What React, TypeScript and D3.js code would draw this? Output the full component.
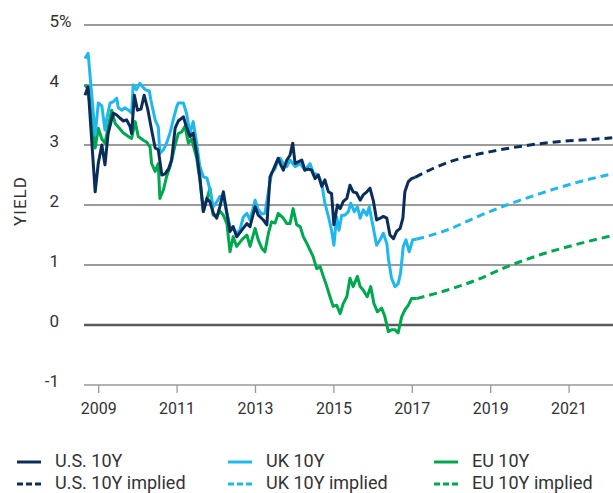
import React from "react";
import * as d3 from "d3";

// ---- data (decimal year, yield %) ----
const US_10Y: [number, number][] = [
  [2008.65, 3.83], [2008.73, 3.97], [2008.91, 2.22], [2008.99, 2.7], [2009.08, 3.0], [2009.16, 2.67],
  [2009.24, 3.19], [2009.37, 3.53], [2009.46, 3.5], [2009.54, 3.45], [2009.63, 3.4], [2009.71, 3.42],
  [2009.8, 3.31], [2009.84, 3.19], [2009.91, 3.83], [2009.99, 3.58], [2010.08, 3.6], [2010.16, 3.83],
  [2010.25, 3.6], [2010.35, 3.25], [2010.44, 2.95], [2010.52, 2.92], [2010.61, 2.5], [2010.69, 2.52],
  [2010.78, 2.6], [2010.86, 2.75], [2010.95, 3.28], [2011.03, 3.4], [2011.16, 3.47], [2011.24, 3.3],
  [2011.33, 3.14], [2011.41, 3.2], [2011.5, 2.86], [2011.58, 2.47], [2011.67, 1.89], [2011.76, 2.11],
  [2011.84, 2.05], [2011.92, 1.87], [2012.01, 1.78], [2012.09, 1.97], [2012.18, 2.22], [2012.27, 1.86],
  [2012.35, 1.56], [2012.43, 1.64], [2012.52, 1.47], [2012.65, 1.58], [2012.78, 1.69], [2012.86, 1.64],
  [2012.99, 1.97], [2013.07, 1.83], [2013.2, 1.75], [2013.29, 1.67], [2013.37, 2.47], [2013.45, 2.58],
  [2013.58, 2.78], [2013.63, 2.69], [2013.71, 2.58], [2013.8, 2.75], [2013.88, 2.83], [2013.95, 3.03],
  [2014.01, 2.69], [2014.09, 2.72], [2014.18, 2.75], [2014.26, 2.58], [2014.35, 2.6], [2014.43, 2.58],
  [2014.52, 2.44], [2014.6, 2.5], [2014.69, 2.31], [2014.77, 2.42], [2014.86, 2.22], [2014.94, 2.19],
  [2015.0, 1.67], [2015.09, 2.0], [2015.16, 1.94], [2015.24, 2.06], [2015.33, 2.11], [2015.41, 2.33],
  [2015.49, 2.22], [2015.58, 2.2], [2015.67, 2.08], [2015.75, 2.17], [2015.84, 2.22], [2015.92, 2.28],
  [2016.01, 2.06], [2016.09, 1.75], [2016.18, 1.78], [2016.26, 1.81], [2016.35, 1.78], [2016.43, 1.5],
  [2016.52, 1.44], [2016.6, 1.56], [2016.69, 1.61], [2016.76, 1.78], [2016.81, 2.22], [2016.9, 2.39],
  [2016.98, 2.44], [2017.07, 2.46],
];

const UK_10Y: [number, number][] = [
  [2008.65, 4.44], [2008.73, 4.53], [2008.91, 3.17], [2008.99, 3.7], [2009.08, 3.65], [2009.16, 3.25],
  [2009.2, 3.42], [2009.29, 3.7], [2009.37, 3.72], [2009.46, 3.78], [2009.5, 3.62], [2009.59, 3.58],
  [2009.67, 3.62], [2009.76, 3.58], [2009.84, 3.53], [2009.88, 4.0], [2009.96, 3.92], [2010.05, 4.03],
  [2010.12, 3.97], [2010.2, 3.92], [2010.29, 3.9], [2010.33, 3.75], [2010.44, 3.42], [2010.52, 3.3],
  [2010.56, 2.86], [2010.65, 2.92], [2010.73, 3.03], [2010.82, 3.2], [2010.9, 3.42], [2010.99, 3.64],
  [2011.03, 3.7], [2011.16, 3.7], [2011.24, 3.53], [2011.33, 3.2], [2011.41, 3.39], [2011.5, 3.03],
  [2011.58, 2.64], [2011.67, 2.47], [2011.76, 2.45], [2011.84, 2.25], [2011.92, 1.97], [2012.01, 2.05],
  [2012.09, 2.14], [2012.18, 2.14], [2012.27, 1.87], [2012.35, 1.64], [2012.43, 1.6], [2012.52, 1.53],
  [2012.6, 1.58], [2012.69, 1.8], [2012.78, 1.86], [2012.86, 1.75], [2012.99, 2.08], [2013.07, 1.92],
  [2013.16, 1.85], [2013.24, 1.86], [2013.33, 2.22], [2013.41, 2.53], [2013.5, 2.61], [2013.58, 2.75],
  [2013.63, 2.78], [2013.71, 2.69], [2013.8, 2.64], [2013.88, 2.75], [2014.01, 2.64], [2014.14, 2.69],
  [2014.26, 2.58], [2014.39, 2.69], [2014.48, 2.53], [2014.6, 2.5], [2014.69, 2.36], [2014.77, 2.03],
  [2014.86, 1.81], [2014.94, 1.58], [2015.0, 1.33], [2015.07, 1.8], [2015.13, 1.58], [2015.2, 1.83],
  [2015.28, 1.83], [2015.37, 1.89], [2015.43, 2.03], [2015.52, 1.89], [2015.6, 1.97], [2015.67, 1.78],
  [2015.75, 1.92], [2015.84, 1.83], [2015.9, 1.97], [2015.99, 1.67], [2016.09, 1.33], [2016.18, 1.42],
  [2016.26, 1.53], [2016.35, 1.36], [2016.39, 1.11], [2016.47, 0.78], [2016.56, 0.64], [2016.64, 0.69],
  [2016.7, 0.86], [2016.77, 1.31], [2016.84, 1.42], [2016.92, 1.22], [2017.01, 1.42], [2017.1, 1.43],
];

const EU_10Y: [number, number][] = [
  [2008.65, 4.0], [2008.73, 3.93], [2008.91, 2.95], [2008.99, 3.28], [2009.08, 3.1], [2009.16, 3.03],
  [2009.24, 3.3], [2009.33, 3.58], [2009.42, 3.36], [2009.5, 3.3], [2009.63, 3.2], [2009.76, 3.14],
  [2009.84, 3.11], [2009.93, 3.39], [2010.01, 3.14], [2010.14, 3.08], [2010.22, 3.05], [2010.31, 2.97],
  [2010.35, 2.69], [2010.44, 2.56], [2010.52, 2.69], [2010.56, 2.11], [2010.65, 2.25], [2010.73, 2.47],
  [2010.82, 2.64], [2010.9, 2.86], [2010.95, 3.0], [2011.03, 3.19], [2011.12, 3.22], [2011.2, 3.31],
  [2011.29, 3.03], [2011.37, 3.1], [2011.5, 2.78], [2011.58, 2.42], [2011.67, 1.89], [2011.76, 2.1],
  [2011.84, 2.28], [2011.92, 1.83], [2012.01, 1.81], [2012.09, 1.9], [2012.18, 1.83], [2012.27, 1.69],
  [2012.35, 1.22], [2012.43, 1.47], [2012.52, 1.31], [2012.65, 1.42], [2012.78, 1.5], [2012.86, 1.31],
  [2012.99, 1.61], [2013.07, 1.42], [2013.16, 1.28], [2013.24, 1.22], [2013.33, 1.53], [2013.41, 1.72],
  [2013.5, 1.7], [2013.58, 1.86], [2013.71, 1.78], [2013.8, 1.69], [2013.88, 1.69], [2013.96, 1.94],
  [2014.05, 1.67], [2014.14, 1.64], [2014.22, 1.47], [2014.31, 1.36], [2014.39, 1.25], [2014.47, 1.14],
  [2014.56, 0.94], [2014.65, 0.97], [2014.73, 0.81], [2014.82, 0.64], [2014.9, 0.47], [2014.98, 0.31],
  [2015.07, 0.33], [2015.16, 0.19], [2015.24, 0.36], [2015.33, 0.47], [2015.41, 0.78], [2015.49, 0.64],
  [2015.6, 0.81], [2015.67, 0.64], [2015.75, 0.58], [2015.85, 0.47], [2015.94, 0.64], [2016.02, 0.36],
  [2016.11, 0.22], [2016.22, 0.28], [2016.3, 0.14], [2016.39, -0.11], [2016.47, -0.08], [2016.56, -0.08],
  [2016.64, -0.13], [2016.73, 0.14], [2016.81, 0.25], [2016.9, 0.33], [2016.98, 0.44], [2017.11, 0.44],
];

const US_IMPLIED: [number, number][] = [
  [2017.07, 2.46], [2017.5, 2.6], [2018.0, 2.73], [2018.5, 2.82], [2019.0, 2.89], [2019.5, 2.95],
  [2020.0, 3.0], [2020.5, 3.04], [2021.0, 3.07], [2021.5, 3.09], [2022.1, 3.12],
];
const UK_IMPLIED: [number, number][] = [
  [2017.1, 1.43], [2017.88, 1.58], [2018.64, 1.8], [2019.41, 2.0], [2020.26, 2.19], [2021.11, 2.36], [2022.1, 2.52],
];
const EU_IMPLIED: [number, number][] = [
  [2017.11, 0.44], [2017.88, 0.58], [2018.64, 0.75], [2019.41, 0.97], [2020.26, 1.17], [2021.11, 1.33], [2022.1, 1.49],
];

const Y_TICKS = [-1, 0, 1, 2, 3, 4, 5];
const X_TICKS = [2009, 2011, 2013, 2015, 2017, 2019, 2021];
const LEGEND_LABELS = ["U.S. 10Y", "UK 10Y", "EU 10Y", "U.S. 10Y implied", "UK 10Y implied", "EU 10Y implied"];

const NAVY = "#0b2d5b";
const SKY = "#1fb8ee";
const GREEN = "#00a84f";
const FONT = "Roboto, 'Liberation Sans', sans-serif";

export default function App() {
  const W = 613, H = 493;
  const x = d3.scaleLinear().domain([2009, 2021]).range([98.7, 569.1]);
  const y = d3.scaleLinear().domain([-1, 5]).range([385, 25]);
  const gridLeft = 84, gridRight = 613;

  const solid = d3.line<[number, number]>().x((d) => x(d[0])).y((d) => y(d[1])).curve(d3.curveLinear);
  const smooth = d3.line<[number, number]>().x((d) => x(d[0])).y((d) => y(d[1])).curve(d3.curveMonotoneX);

  const series = [
    { data: EU_10Y, color: GREEN, implied: EU_IMPLIED },
    { data: UK_10Y, color: SKY, implied: UK_IMPLIED },
    { data: US_10Y, color: NAVY, implied: US_IMPLIED },
  ];

  const legend = [
    { label: LEGEND_LABELS[0], color: NAVY, dashed: false, lx: 17, row: 0 },
    { label: LEGEND_LABELS[1], color: SKY, dashed: false, lx: 228, row: 0 },
    { label: LEGEND_LABELS[2], color: GREEN, dashed: false, lx: 434, row: 0 },
    { label: LEGEND_LABELS[3], color: NAVY, dashed: true, lx: 17, row: 1 },
    { label: LEGEND_LABELS[4], color: SKY, dashed: true, lx: 228, row: 1 },
    { label: LEGEND_LABELS[5], color: GREEN, dashed: true, lx: 434, row: 1 },
  ];
  const rowY = [462, 484];

  return (
    <svg width={W} height={H} style={{ position: "absolute", left: 0, top: 0 }} fontFamily={FONT}>
      <rect width={W} height={H} fill="#fff" />
      {Y_TICKS.map((t) => (
        <line
          key={"g" + t}
          x1={gridLeft}
          x2={gridRight}
          y1={y(t)}
          y2={y(t)}
          stroke={t === 0 ? "#5a5a5a" : t === -1 ? "#9a9a9a" : "#7a7a7a"}
          strokeWidth={t === 0 ? 2.6 : 1.3}
        />
      ))}
      {Y_TICKS.map((t) => (
        <g key={"yl" + t}>
          <text x={59} y={y(t) - 2} textAnchor="end" dominantBaseline="middle" fontSize={17} fill="#333">
            {t}
          </text>
          {t === 5 && (
            <text x={59} y={y(t) - 2} textAnchor="start" dominantBaseline="middle" fontSize={17} fill="#333">
              %
            </text>
          )}
        </g>
      ))}
      <text
        transform={`translate(22,201) rotate(-90)`}
        textAnchor="middle"
        dominantBaseline="middle"
        fontSize={17}
        fill="#333"
        letterSpacing={1}
      >
        YIELD
      </text>
      {X_TICKS.map((t) => (
        <g key={"xt" + t}>
          <line x1={x(t)} x2={x(t)} y1={385} y2={393} stroke="#9a9a9a" strokeWidth={1.3} />
          <text x={x(t)} y={410} textAnchor="middle" dominantBaseline="middle" fontSize={16} fill="#333">
            {t}
          </text>
        </g>
      ))}
      {series.map((s, i) => (
        <g key={"s" + i}>
          <path d={smooth(s.implied) || ""} fill="none" stroke={s.color} strokeWidth={3} strokeDasharray="8,5" />
          <path d={solid(s.data) || ""} fill="none" stroke={s.color} strokeWidth={3} strokeLinejoin="round" />
        </g>
      ))}
      {legend.map((l, i) => (
        <g key={"lg" + i}>
          <line
            x1={l.lx}
            x2={l.lx + 24}
            y1={rowY[l.row]}
            y2={rowY[l.row]}
            stroke={l.color}
            strokeWidth={3}
            strokeDasharray={l.dashed ? "6,3" : undefined}
          />
          <text x={l.lx + 38} y={rowY[l.row]} dominantBaseline="middle" fontSize={18} fill="#333">
            {l.label}
          </text>
        </g>
      ))}
    </svg>
  );
}
